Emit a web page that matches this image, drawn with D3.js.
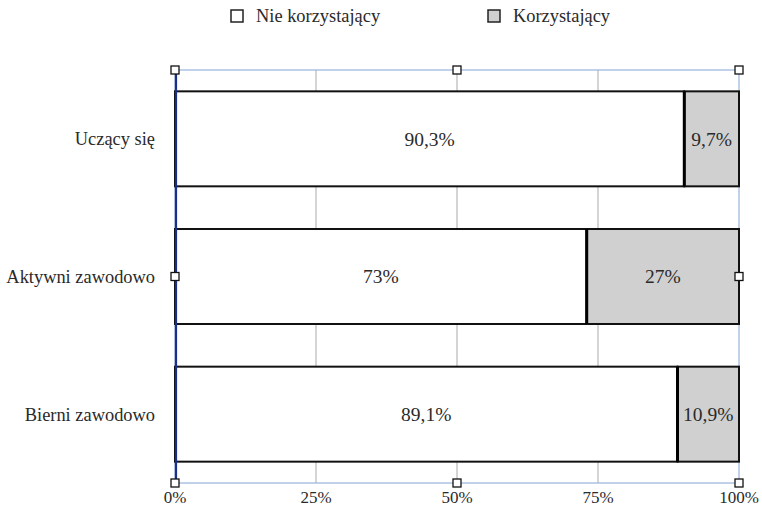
<!DOCTYPE html>
<head>
    <meta charset="utf-8">
    <script src="https://d3js.org/d3.v7.min.js"></script>
    <style>
        body { margin:0; background:#fff; }
        text { font-family: "Liberation Serif", "Times New Roman", "DejaVu Serif", serif; fill:#2a2a2a; }
        .grid line { stroke:#b8b8b8; stroke-width:1.2; }
        .bar { stroke:#111; stroke-width:2; }
        .handle { fill:#fff; stroke:#111; stroke-width:1.3; }
    </style>
</head>
<body>
<script>
    var categories = ['Uczący się', 'Aktywni zawodowo', 'Bierni zawodowo'];
    var notUsing = [90.3, 73, 89.1];
    var using = [9.7, 27, 10.9];
    var notUsingLabels = ['90,3%', '73%', '89,1%'];
    var usingLabels = ['9,7%', '27%', '10,9%'];
    var series = ['Nie korzystający', 'Korzystający'];
    var ticks = [0, 25, 50, 75, 100];

    var width = 762, height = 509;
    // plot area (note: "top" is reserved on window, so use plot* names)
    var plotLeft = 175, plotRight = 739, plotTop = 70, plotBottom = 483;
    var colors = ['#ffffff', '#d0d0d0'];

    var svg = d3.select('body').append('svg')
        .attr('width', width)
        .attr('height', height);

    var x = d3.scaleLinear().domain([0, 100]).range([plotLeft, plotRight]);
    var y = d3.scaleBand().domain(categories).range([plotTop, plotBottom])
        .paddingInner(0.31).paddingOuter(0.155);

    // grid
    svg.append('g').attr('class', 'grid')
        .selectAll('line').data(ticks.slice(1, -1)).enter()
        .append('line')
        .attr('x1', d => x(d)).attr('x2', d => x(d))
        .attr('y1', plotTop).attr('y2', plotBottom);

    // plot border (selection frame)
    svg.append('rect')
        .attr('x', plotLeft).attr('y', plotTop)
        .attr('width', plotRight - plotLeft).attr('height', plotBottom - plotTop)
        .attr('fill', 'none').attr('stroke', '#9ab3dc').attr('stroke-width', 1.2);

    var rows = categories.map((c, i) => ({ cat: c, a: notUsing[i], b: using[i], la: notUsingLabels[i], lb: usingLabels[i] }));

    var g = svg.append('g');
    // not using segment
    g.selectAll('.seg1').data(rows).enter().append('rect')
        .attr('class', 'bar')
        .attr('x', x(0)).attr('y', d => y(d.cat))
        .attr('width', d => x(d.a) - x(0)).attr('height', y.bandwidth())
        .attr('fill', colors[0]);
    // using segment
    g.selectAll('.seg2').data(rows).enter().append('rect')
        .attr('class', 'bar')
        .attr('x', d => x(d.a)).attr('y', d => y(d.cat))
        .attr('width', d => x(d.a + d.b) - x(d.a)).attr('height', y.bandwidth())
        .attr('fill', colors[1]);
    // divider
    g.selectAll('.div').data(rows).enter().append('line')
        .attr('x1', d => x(d.a)).attr('x2', d => x(d.a))
        .attr('y1', d => y(d.cat)).attr('y2', d => y(d.cat) + y.bandwidth())
        .attr('stroke', '#000').attr('stroke-width', 3);

    // labels
    g.selectAll('.l1').data(rows).enter().append('text')
        .attr('x', d => x(d.a / 2)).attr('y', d => y(d.cat) + y.bandwidth() / 2)
        .attr('dy', '0.35em').attr('text-anchor', 'middle').attr('font-size', 19.5)
        .text(d => d.la);
    g.selectAll('.l2').data(rows).enter().append('text')
        .attr('x', d => x(d.a + d.b / 2)).attr('y', d => y(d.cat) + y.bandwidth() / 2)
        .attr('dy', '0.35em').attr('text-anchor', 'middle').attr('font-size', 19.5)
        .text(d => d.lb);

    // left axis
    svg.append('line')
        .attr('x1', plotLeft + 1).attr('x2', plotLeft + 1).attr('y1', plotTop).attr('y2', plotBottom)
        .attr('stroke', '#1a2f8a').attr('stroke-width', 2.2);

    // category axis labels
    svg.selectAll('.cat').data(categories).enter().append('text')
        .attr('x', plotLeft - 20).attr('y', d => y(d) + y.bandwidth() / 2)
        .attr('dy', '0.35em').attr('text-anchor', 'end').attr('font-size', 18.4)
        .text(d => d);

    // x tick labels
    svg.selectAll('.tick').data(ticks).enter().append('text')
        .attr('x', d => x(d)).attr('y', plotBottom + 20)
        .attr('text-anchor', 'middle').attr('font-size', 17)
        .text(d => d + '%');

    // handles
    var hx = [plotLeft, (plotLeft + plotRight) / 2, plotRight];
    var hy = [plotTop, (plotTop + plotBottom) / 2, plotBottom];
    var handles = [];
    hx.forEach((a, i) => hy.forEach((b, j) => { if (!(i == 1 && j == 1)) handles.push([a, b]); }));
    svg.selectAll('.handle').data(handles).enter().append('rect')
        .attr('class', 'handle')
        .attr('x', d => d[0] - 4).attr('y', d => d[1] - 4)
        .attr('width', 8).attr('height', 8);

    // legend
    var legX = [231, 488];
    var leg = svg.selectAll('.leg').data(series).enter().append('g')
        .attr('transform', (d, i) => 'translate(' + legX[i] + ',10)');
    leg.append('rect')
        .attr('width', 12).attr('height', 12)
        .attr('fill', (d, i) => colors[i]).attr('stroke', '#222').attr('stroke-width', 1.5);
    leg.append('text')
        .attr('x', 25).attr('y', 6).attr('dy', '0.35em').attr('font-size', 18.4)
        .text(d => d);
</script>
</body>
